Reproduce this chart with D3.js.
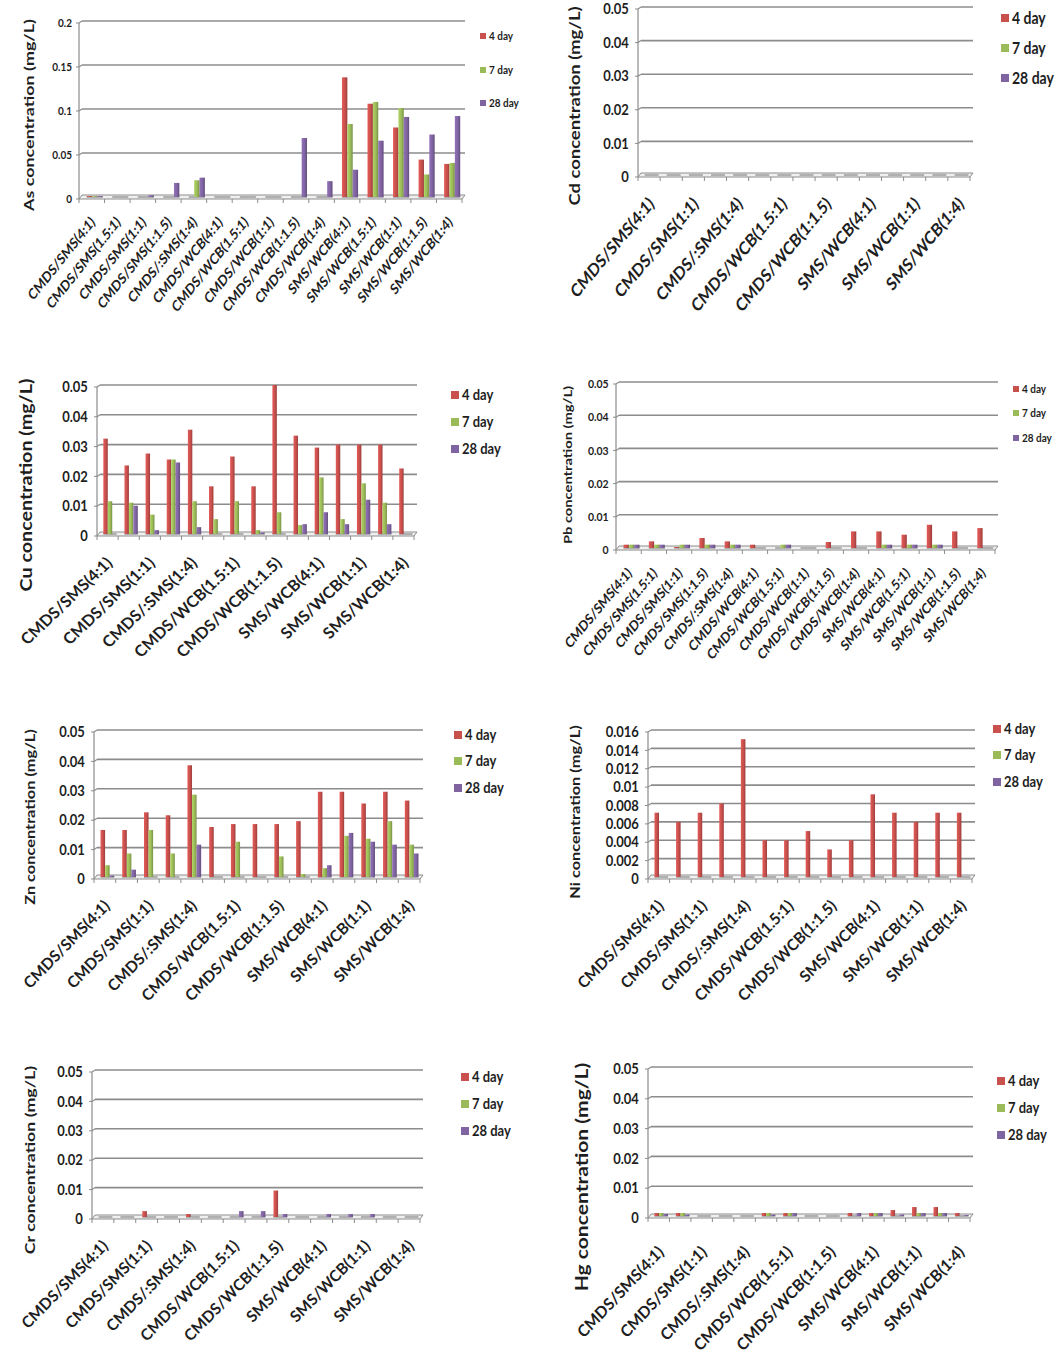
<!DOCTYPE html>
<html><head><meta charset="utf-8">
<script src="https://cdn.jsdelivr.net/npm/d3@7"></script>
<style>body{margin:0;background:#fff}svg{display:block}text{font-family:Lato,"Open Sans",sans-serif;font-weight:bold;fill:#1e1e1e}</style>
</head><body><svg id="c" width="1057" height="1364"></svg>
<script>
const categories = ["CMDS/SMS(4:1)","CMDS/SMS(1.5:1)","CMDS/SMS(1:1)","CMDS/SMS(1:1.5)","CMDS/:SMS(1:4)","CMDS/WCB(4:1)","CMDS/WCB(1.5:1)","CMDS/WCB(1:1)","CMDS/WCB(1:1.5)","CMDS/WCB(1:4)","SMS/WCB(4:1)","SMS/WCB(1.5:1)","SMS/WCB(1:1)","SMS/WCB(1:1.5)","SMS/WCB(1:4)"];
const seriesNames = ["4 day","7 day","28 day"];
const seriesColors = ["#C8504D","#9BBB59","#8064A2"];

const as4  = [0.001,0,0,0,0,0,0,0,0,0,0.136,0.106,0.079,0.0425,0.0376];
const as7  = [0.001,0,0,0,0.019,0,0,0,0,0,0.083,0.108,0.101,0.0256,0.0387];
const as28 = [0.001,0,0.002,0.016,0.022,0,0,0,0.067,0.018,0.031,0.064,0.091,0.071,0.092];

const cd4  = [0,0,0,0,0,0,0,0,0,0,0,0,0,0,0];
const cd7  = [0,0,0,0,0,0,0,0,0,0,0,0,0,0,0];
const cd28 = [0,0,0,0,0,0,0,0,0,0,0,0,0,0,0];

const cu4  = [0.032,0.023,0.027,0.025,0.035,0.016,0.026,0.016,0.050,0.033,0.029,0.030,0.030,0.030,0.022];
const cu7  = [0.011,0.0105,0.0065,0.025,0.011,0.005,0.011,0.0013,0.0073,0.003,0.019,0.005,0.017,0.0105,0];
const cu28 = [0,0.0095,0.0013,0.024,0.0023,0,0,0.0005,0,0.0033,0.0073,0.0033,0.0115,0.0033,0];

const pb4  = [0.001,0.002,0.0003,0.003,0.002,0.001,0,0,0.0018,0.005,0.005,0.004,0.007,0.005,0.006];
const pb7  = [0.001,0.001,0.001,0.001,0.001,0,0.001,0,0,0,0.001,0.001,0.001,0,0];
const pb28 = [0.001,0.001,0.001,0.001,0.001,0,0.001,0,0,0,0.001,0.001,0.001,0,0];

const zn4  = [0.016,0.016,0.022,0.021,0.038,0.017,0.018,0.018,0.018,0.019,0.029,0.029,0.025,0.029,0.026];
const zn7  = [0.004,0.008,0.016,0.008,0.028,0,0.012,0,0.007,0.001,0.003,0.014,0.013,0.019,0.011];
const zn28 = [0.0005,0.0025,0,0,0.011,0,0,0,0,0,0.004,0.015,0.012,0.011,0.008];

const ni4  = [0.007,0.006,0.007,0.008,0.015,0.004,0.004,0.005,0.003,0.004,0.009,0.007,0.006,0.007,0.007];
const ni7  = [0,0,0,0,0,0,0,0,0,0,0,0,0,0,0];
const ni28 = [0,0,0,0,0,0,0,0,0,0,0,0,0,0,0];

const cr4  = [0,0,0.002,0,0.001,0,0,0,0.009,0,0,0,0,0,0];
const cr7  = [0,0,0,0,0,0,0,0,0,0,0,0,0,0,0];
const cr28 = [0,0,0,0,0,0,0.002,0.002,0.001,0,0.001,0.001,0.001,0,0];

const hg4  = [0.001,0.001,0,0,0,0.001,0.001,0,0,0.001,0.001,0.002,0.003,0.003,0.001];
const hg7  = [0.001,0.001,0,0,0,0.001,0.001,0,0,0,0.001,0,0.001,0.001,0];
const hg28 = [0.0007,0.0005,0,0,0,0.0005,0.001,0,0,0.001,0.001,0.0005,0.001,0.001,0.0003];

const ticks5  = [0,0.01,0.02,0.03,0.04,0.05];
const ticksAs = [0,0.05,0.1,0.15,0.2];
const ticksNi = [0,0.002,0.004,0.006,0.008,0.01,0.012,0.014,0.016];

const svg = d3.select("#c");
const defs = svg.append("defs");
seriesColors.forEach((c,i)=>{
  const g = defs.append("linearGradient").attr("id","g"+i).attr("x1","0").attr("x2","1").attr("y1","0").attr("y2","0");
  g.append("stop").attr("offset","0%").attr("stop-color",d3.color(c).brighter(0.35));
  g.append("stop").attr("offset","55%").attr("stop-color",c);
  g.append("stop").attr("offset","100%").attr("stop-color",d3.color(c).darker(0.7));
});

const fmt = d => String(+d.toFixed(4));

function panel(cfg, vals){
  const g = svg.append("g");
  const x = d3.scaleBand().domain(categories).range([cfg.x0,cfg.x1]);
  const y = d3.scaleLinear().domain([0,cfg.max]).range([cfg.yb,cfg.yt]);
  const w = x.bandwidth();
  cfg.ticks.forEach(t=>{
    if(t===0) return;
    g.append("line").attr("x1",cfg.x0).attr("x2",cfg.x0+3).attr("y1",y(t)+2).attr("y2",y(t)).attr("stroke","#8c8c8c").attr("stroke-width",1.2);
    g.append("line").attr("x1",cfg.x0+3).attr("x2",cfg.x1+3).attr("y1",y(t)).attr("y2",y(t)).attr("stroke","#8c8c8c").attr("stroke-width",1.6);
  });
  g.append("polygon").attr("points",[[cfg.x0,cfg.yb+2],[cfg.x1,cfg.yb+2],[cfg.x1+3,cfg.yb-2],[cfg.x0+3,cfg.yb-2]].map(p=>p.join(",")).join(" "))
    .attr("fill","#f0f0f0").attr("stroke","#8c8c8c").attr("stroke-width",1);
  categories.forEach((c,i)=>{
    g.append("line").attr("x1",x(c)+w*0.3).attr("x2",x(c)+w*0.93).attr("y1",cfg.yb).attr("y2",cfg.yb).attr("stroke","#a0a0a0").attr("stroke-width",1.6);
  });
  g.append("line").attr("x1",cfg.x0).attr("x2",cfg.x0).attr("y1",cfg.yt+2).attr("y2",cfg.yb+2).attr("stroke","#8c8c8c").attr("stroke-width",1.2);
  cfg.ticks.forEach(t=>{
    g.append("line").attr("x1",cfg.x0-3).attr("x2",cfg.x0).attr("y1",y(t)+2).attr("y2",y(t)+2).attr("stroke","#8c8c8c");
    g.append("text").attr("transform",`translate(${cfg.x0-cfg.tf*0.7},${y(t)+2}) scale(1,1.15)`).attr("dy","0.35em").attr("text-anchor","end")
      .attr("font-size",cfg.tf).text(fmt(t));
  });
  d3.range(16).forEach(k=>{
    const xx = cfg.x0 + k*w;
    g.append("line").attr("x1",xx).attr("x2",xx).attr("y1",cfg.yb+2).attr("y2",cfg.yb+6).attr("stroke","#8c8c8c");
  });
  vals.forEach((arr,s)=>{
    g.selectAll(null).data(arr).join("rect")
      .attr("x",(d,i)=>x(categories[i])+w*(0.3+0.21*s))
      .attr("width",w*0.21)
      .attr("y",d=>y(d))
      .attr("height",d=>cfg.yb-y(d))
      .attr("fill","url(#g"+s+")");
  });
  categories.forEach((c,i)=>{
    if(i % cfg.step !== 0) return;
    const ax = x(c)+w/2+cfg.ldx, ay = cfg.yb+cfg.ldy;
    g.append("text").attr("transform",`translate(${ax},${ay}) scale(1,${cfg.lsy}) rotate(-45)`).attr("text-anchor","end")
      .attr("font-size",cfg.lf).text(c);
  });
  g.append("text").attr("transform",`translate(${cfg.ylx},${cfg.yly}) scale(1,${cfg.ysy}) rotate(-90)`).attr("text-anchor","middle")
    .attr("font-size",cfg.ylf).text(cfg.title);
  seriesNames.forEach((n,s)=>{
    const ly = cfg.legY[s];
    g.append("rect").attr("x",cfg.legX).attr("y",ly-cfg.legS/2).attr("width",cfg.legS).attr("height",cfg.legS).attr("fill",seriesColors[s]);
    g.append("text").attr("transform",`translate(${cfg.legX+cfg.legS+3},${ly}) scale(1,1.15)`).attr("dy","0.35em").attr("font-size",cfg.legF).text(n);
  });
}

panel({title:"As concentration (mg/L)",x0:79,x1:462,yt:21,yb:197,max:0.2,ticks:ticksAs,tf:10,lf:12,lsy:1.25,step:1,ldx:4,ldy:26,ylx:34,yly:115,ylf:14,ysy:1.28,legX:480,legY:[36,70,103],legS:6,legF:10},[as4,as7,as28]);
panel({title:"Cd concentration (mg/L)",x0:638,x1:970,yt:7,yb:175,max:0.05,ticks:ticks5,tf:13,lf:15,lsy:1.2,step:2,ldx:6,ldy:30,ylx:580,yly:106,ylf:15,ysy:1.23,legX:1001,legY:[18,48,78],legS:8,legF:14},[cd4,cd7,cd28]);
panel({title:"Cu concentration (mg/L)",x0:97,x1:414,yt:385,yb:534,max:0.05,ticks:ticks5,tf:13,lf:16.5,lsy:0.95,step:2,ldx:6,ldy:30,ylx:32,yly:485,ylf:17,ysy:1.16,legX:451,legY:[395,422,449],legS:8,legF:13},[cu4,cu7,cu28]);
panel({title:"Pb concentration (mg/L)",x0:616,x1:995,yt:382,yb:548,max:0.05,ticks:ticks5,tf:10.5,lf:12,lsy:1.2,step:1,ldx:4,ldy:26,ylx:572,yly:465,ylf:11.5,ysy:1.28,legX:1013,legY:[389,413,438],legS:6,legF:10},[pb4,pb7,pb28]);
panel({title:"Zn concentration (mg/L)",x0:94,x1:420,yt:730,yb:877,max:0.05,ticks:ticks5,tf:13,lf:15.5,lsy:1.02,step:2,ldx:6,ldy:30,ylx:35,yly:817,ylf:14,ysy:1.17,legX:454,legY:[735,761,788],legS:8,legF:13},[zn4,zn7,zn28]);
panel({title:"Ni concentration (mg/L)",x0:648,x1:972,yt:730,yb:877,max:0.016,ticks:ticksNi,tf:13,lf:15.5,lsy:1.02,step:2,ldx:6,ldy:30,ylx:580,yly:812,ylf:14,ysy:1.17,legX:993,legY:[729,755,782],legS:8,legF:13},[ni4,ni7,ni28]);
panel({title:"Cr concentration (mg/L)",x0:92,x1:420,yt:1070,yb:1217,max:0.05,ticks:ticks5,tf:13,lf:15.5,lsy:1.02,step:2,ldx:6,ldy:30,ylx:35,yly:1160,ylf:14,ysy:1.27,legX:461,legY:[1077,1104,1131],legS:8,legF:13},[cr4,cr7,cr28]);
panel({title:"Hg concentration (mg/L)",x0:648,x1:970,yt:1067,yb:1216,max:0.05,ticks:ticks5,tf:13,lf:15.5,lsy:1.06,step:2,ldx:6,ldy:37,ylx:588,yly:1177,ylf:17,ysy:1.24,legX:997,legY:[1081,1108,1135],legS:8,legF:13},[hg4,hg7,hg28]);
</script></body></html>
